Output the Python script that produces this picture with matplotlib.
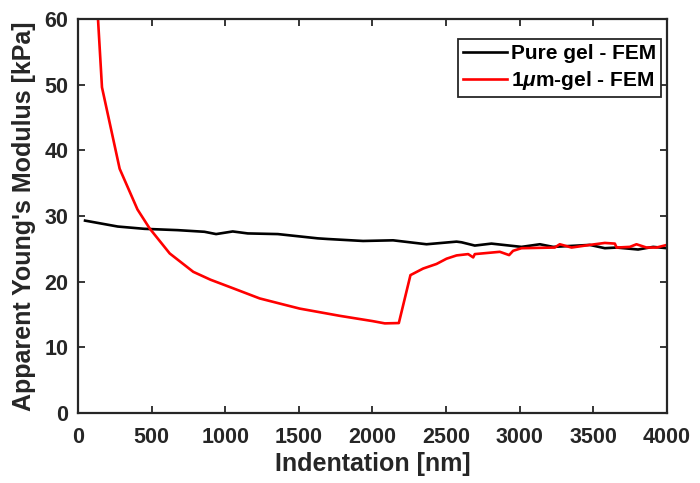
import matplotlib
matplotlib.use("Agg")
import matplotlib.pyplot as plt

# indentation [nm] / apparent modulus [kPa]
pure_x = [48, 270, 451, 677, 859, 938, 1051, 1153, 1357, 1628, 1696, 1936, 2140,
          2367, 2571, 2605, 2695, 2808, 3012, 3137, 3227, 3476, 3578, 3658, 3804,
          3906, 4000]
pure_y = [29.3, 28.4, 28.05, 27.85, 27.6, 27.25, 27.65, 27.35, 27.25, 26.6, 26.5,
          26.2, 26.3, 25.7, 26.1, 26.0, 25.5, 25.8, 25.3, 25.7, 25.3, 25.6, 25.1,
          25.2, 24.9, 25.3, 25.1]

gel_x = [45, 163, 283, 404, 487, 623, 783, 900, 1053, 1234, 1400, 1506, 1778, 2000,
         2084, 2179, 2258, 2344, 2435, 2503, 2571, 2650, 2684, 2695, 2865, 2928,
         2955, 3012, 3238, 3272, 3352, 3476, 3578, 3646, 3658, 3748, 3793, 3861,
         3929, 4000]
gel_y = [95.0, 49.6, 37.2, 31.0, 28.1, 24.3, 21.5, 20.3, 19.0, 17.45, 16.5, 15.9,
         14.8, 14.0, 13.65, 13.7, 21.0, 22.0, 22.7, 23.5, 24.0, 24.2, 23.7, 24.2,
         24.55, 24.05, 24.7, 25.1, 25.2, 25.7, 25.2, 25.6, 25.9, 25.8, 25.2, 25.3,
         25.7, 25.2, 25.2, 25.6]

xticks = list(range(0, 4001, 500))
yticks = list(range(0, 61, 10))

plt.rcParams["font.family"] = ["Liberation Sans", "DejaVu Sans"]
plt.rcParams["font.weight"] = "bold"
plt.rcParams["mathtext.fontset"] = "custom"
plt.rcParams["mathtext.it"] = "Liberation Sans:italic:bold"
plt.rcParams["mathtext.rm"] = "Liberation Sans:bold"

fig = plt.figure(figsize=(7.0, 4.83), dpi=100)
ax = fig.add_axes([0.1114, 0.1449, 0.8414, 0.8157])

ax.plot(pure_x, pure_y, color="black", lw=1.9, label="Pure gel - FEM")
ax.plot(gel_x, gel_y, color="#ff0000", lw=1.9, label=r"1$\mu$m-gel - FEM")

ax.set_xlim(0, 4000)
ax.set_ylim(0, 60)
ax.set_xticks(xticks)
ax.set_yticks(yticks)
ax.tick_params(direction="in", length=5, width=1.3, top=True, right=True,
               labelsize=15.5, colors="#262626")
ax.tick_params(axis="x", pad=10)
ax.tick_params(axis="y", pad=7)
for lbl in ax.get_xticklabels() + ax.get_yticklabels():
    lbl.set_fontweight("bold")
for s in ax.spines.values():
    s.set_linewidth(1.6)
    s.set_color("#262626")

ax.set_xlabel("Indentation [nm]", fontsize=18, fontweight="bold", color="#262626",
              labelpad=3)
ax.set_ylabel("Apparent Young's Modulus [kPa]", fontsize=18, fontweight="bold",
              color="#262626", labelpad=6)

leg = ax.legend(loc="upper right", bbox_to_anchor=(0.99, 0.95),
                prop={"weight": "bold", "size": 15}, fancybox=False, framealpha=1,
                edgecolor="#262626", handlelength=2.1, handletextpad=0.2,
                borderpad=0.25, labelspacing=0.3, borderaxespad=0)
leg.get_frame().set_linewidth(1.3)

fig.savefig("out.png", dpi=100)
